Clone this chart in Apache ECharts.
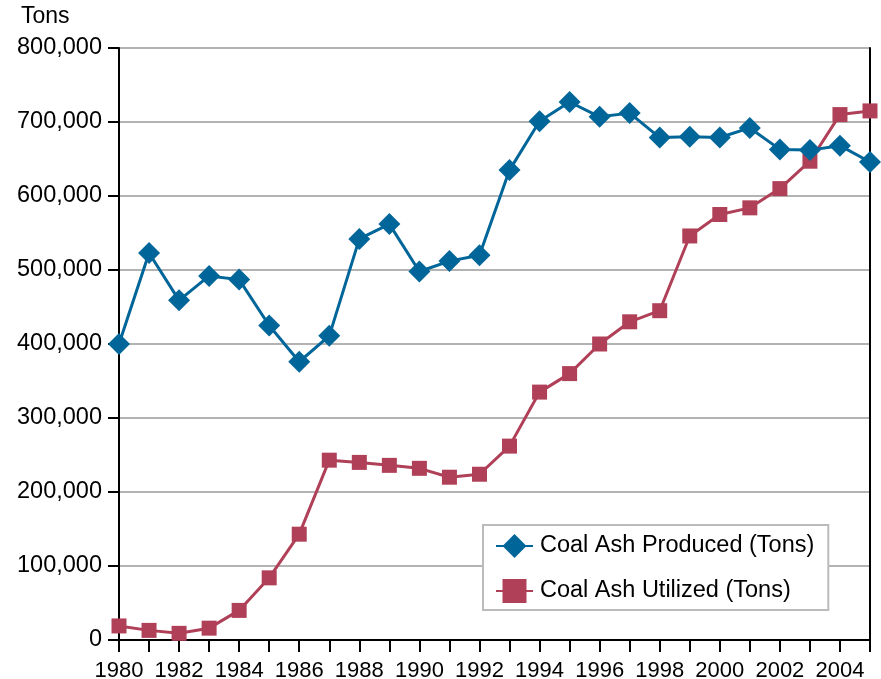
<!DOCTYPE html>
<html>
<head>
<meta charset="utf-8">
<script src="https://cdn.jsdelivr.net/npm/echarts@6/dist/echarts.min.js"></script>
<style>
  html, body { margin: 0; padding: 0; background: #fff; }
  #chart { width: 881px; height: 679px; }
</style>
</head>
<body>
<div id="chart"></div>
<script>
// Years on the category axis
const years = ['1980','1981','1982','1983','1984','1985','1986','1987','1988','1989',
  '1990','1991','1992','1993','1994','1995','1996','1997','1998','1999',
  '2000','2001','2002','2003','2004','2005'];

// Coal ash produced, tons per year
const produced = [400000, 523000, 459000, 492000, 487000, 425000, 376000, 411000, 542000, 562000,
  498000, 512000, 520000, 635000, 701000, 727000, 707000, 712000, 679000, 680000,
  679000, 692000, 663000, 662000, 668000, 646000];

// Coal ash utilized, tons per year
const utilized = [19000, 13000, 9000, 16000, 40000, 84000, 143000, 243000, 240000, 236000,
  232000, 220000, 224000, 262000, 335000, 360000, 400000, 430000, 445000, 546000,
  575000, 584000, 610000, 647000, 710000, 715000];

const chart = echarts.init(document.getElementById('chart'), null, { renderer: 'canvas' });

const BLUE = '#006699';
const RED = '#B04058';
const FONT = '"Liberation Sans", Arial, sans-serif';

chart.setOption({
  animation: false,
  backgroundColor: '#fff',
  textStyle: { fontFamily: FONT },
  graphic: [{
    type: 'text', left: 21, top: 5,
    style: { text: 'Tons', font: '23px ' + FONT, fill: '#000' }
  }],
  grid: { left: 119, right: 11, top: 48, bottom: 39, outerBoundsMode: 'none', containLabel: false },
  legend: {
    orient: 'vertical',
    left: 483, top: 525,
    backgroundColor: '#fff',
    borderColor: '#bbb', borderWidth: 2,
    padding: [9, 14, 7, 12],
    itemGap: 21,
    itemWidth: 37, itemHeight: 30,
    textStyle: { fontSize: 23.5, color: '#000', fontFamily: FONT, padding: [0, 0, 0, 2] },
    data: ['Coal Ash Produced (Tons)', 'Coal Ash Utilized (Tons)']
  },
  xAxis: [{
    type: 'category',
    data: years,
    boundaryGap: false,
    axisLine: { lineStyle: { color: '#000', width: 2 } },
    axisTick: { show: true, length: 12, interval: 0, lineStyle: { color: '#000', width: 2 } },
    axisLabel: {
      interval: 1, margin: 20, color: '#000', fontSize: 22, fontFamily: FONT,
      formatter: (v) => v === '2005' ? '' : v
    },
    splitLine: { show: false }
  }, {
    // top frame edge
    type: 'category',
    data: years,
    boundaryGap: false,
    position: 'top',
    axisLine: { show: true, lineStyle: { color: '#000', width: 2 } },
    axisTick: { show: false },
    axisLabel: { show: false },
    splitLine: { show: false }
  }],
  yAxis: [{
    type: 'value',
    min: 0, max: 800000, interval: 100000,
    axisLine: { show: true, lineStyle: { color: '#000', width: 2 } },
    axisTick: { show: true, length: 11, lineStyle: { color: '#000', width: 2 } },
    axisLabel: {
      margin: 17, color: '#000', fontSize: 23.5, fontFamily: FONT,
      formatter: (v) => v.toLocaleString('en-US')
    },
    splitLine: { show: true, lineStyle: { color: '#b3b3b3', width: 2 } }
  }, {
    // right frame edge
    type: 'value',
    position: 'right',
    min: 0, max: 800000, interval: 100000,
    axisLine: { show: true, lineStyle: { color: '#000', width: 2 } },
    axisTick: { show: false },
    axisLabel: { show: false },
    splitLine: { show: false }
  }],
  series: [
    {
      name: 'Coal Ash Produced (Tons)',
      type: 'line',
      data: produced,
      symbol: 'diamond',
      symbolSize: 22,
      showAllSymbol: true,
      lineStyle: { color: BLUE, width: 3 },
      itemStyle: { color: BLUE },
      z: 5
    },
    {
      name: 'Coal Ash Utilized (Tons)',
      type: 'line',
      data: utilized,
      symbol: 'rect',
      symbolSize: 15,
      showAllSymbol: true,
      lineStyle: { color: RED, width: 3 },
      itemStyle: { color: RED },
      z: 4
    }
  ]
});
</script>
</body>
</html>
